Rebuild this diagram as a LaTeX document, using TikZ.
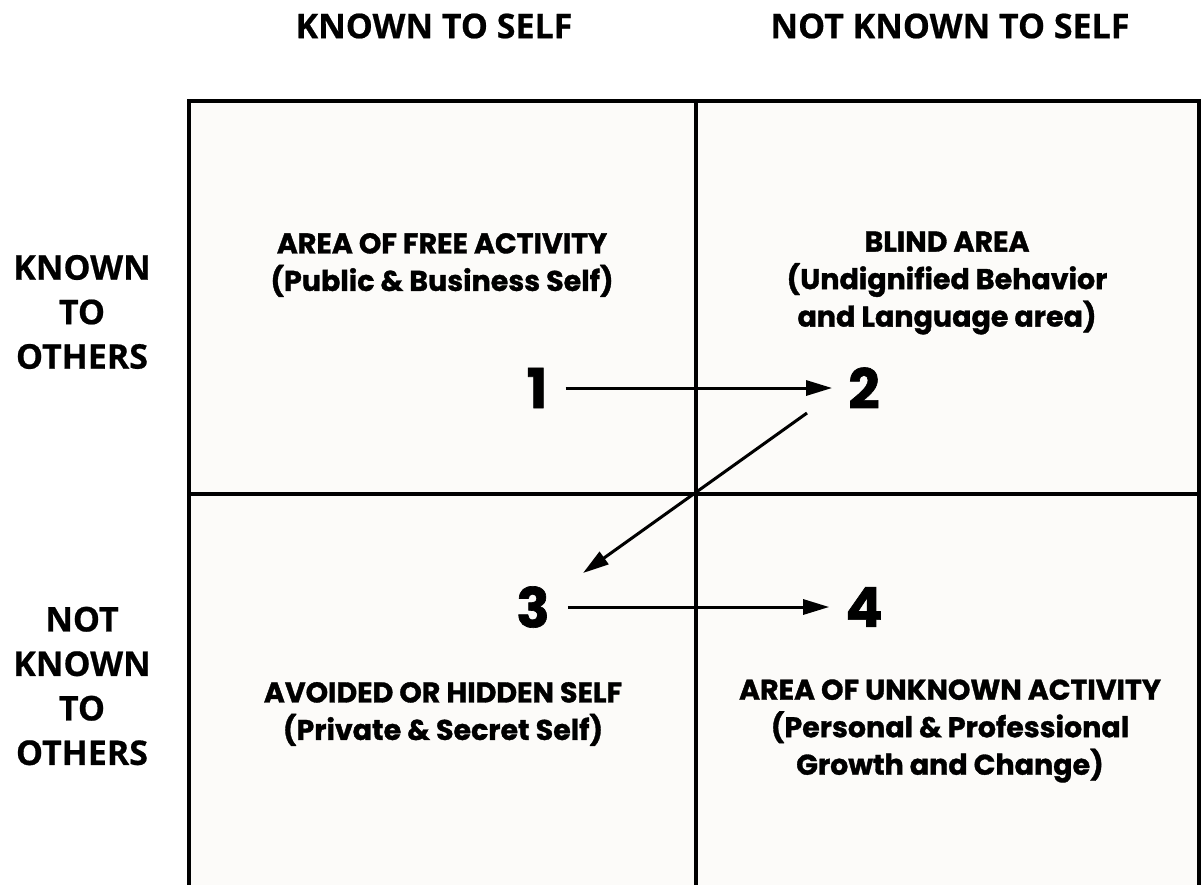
\documentclass[tikz,border=0pt]{standalone}
\usepackage{fontspec}
\newfontfamily\headfont{Open Sans}[BoldFeatures={FakeBold=0.6}]
\newfontfamily\cellfont{Poppins}[BoldFeatures={FakeBold=1.2}]
\usetikzlibrary{arrows.meta}
\definecolor{paper}{RGB}{252,251,249}
\begin{document}
\begin{tikzpicture}[x=1pt,y=-1pt,
  head/.style={font=\headfont\bfseries\fontsize{34}{44.5}\selectfont, align=center, inner sep=0pt},
  cell/.style={font=\cellfont\bfseries\fontsize{28.5}{37.5}\selectfont, align=center, inner sep=0pt},
  num/.style={font=\cellfont\bfseries\fontsize{55}{55}\selectfont, inner sep=0pt},
  grid/.style={line width=3.2pt, black},
  border/.style={line width=4pt, black},
  arr/.style={line width=3pt, -{Triangle[length=26pt,width=15pt]}}]
\useasboundingbox (0,0) rectangle (1201,884);
\clip (0,0) rectangle (1201,884);
\fill[white] (0,0) rectangle (1201,884);
\fill[paper] (189,101) rectangle (1199,890);
\draw[grid] (696,101) -- (696,890);
\draw[grid] (189,494) -- (1199,494);
\draw[border] (189,890) -- (189,101) -- (1199,101) -- (1199,890);

\node[head] (ks) at (434,26) {KNOWN TO SELF};
\node[head] (nks) at (950,26) {NOT KNOWN TO SELF};
\node[head] (ko) at (82,312) {KNOWN\\TO\\OTHERS};
\node[head] (nko) at (82,686) {NOT\\KNOWN\\TO\\OTHERS};

\node[cell] (c1) at (442,265) {AREA OF FREE ACTIVITY\\(Public \& Business Self)};
\node[cell] (c2) at (947,283) {BLIND AREA\\(Undignified Behavior\\and Language area)};
\node[cell] (c3) at (443,714) {AVOIDED OR HIDDEN SELF\\(Private \& Secret Self)};
\node[cell] (c4) at (950,731) {AREA OF UNKNOWN ACTIVITY\\(Personal \& Professional\\Growth and Change)};

\node[num] (n1) at (537,388) {1};
\node[num] (n2) at (864,388) {2};
\node[num] (n3) at (533,607) {3};
\node[num] (n4) at (864,607) {4};

\draw[arr, shorten <=18pt, shorten >=16pt] (n1) -- (n2);
\draw[arr, shorten <=18pt, shorten >=16pt] (n3) -- (n4);
\draw[arr] ([shift={(-57,25)}]n2.center) -- ([shift={(50,-34)}]n3.center);
\end{tikzpicture}
\end{document}
